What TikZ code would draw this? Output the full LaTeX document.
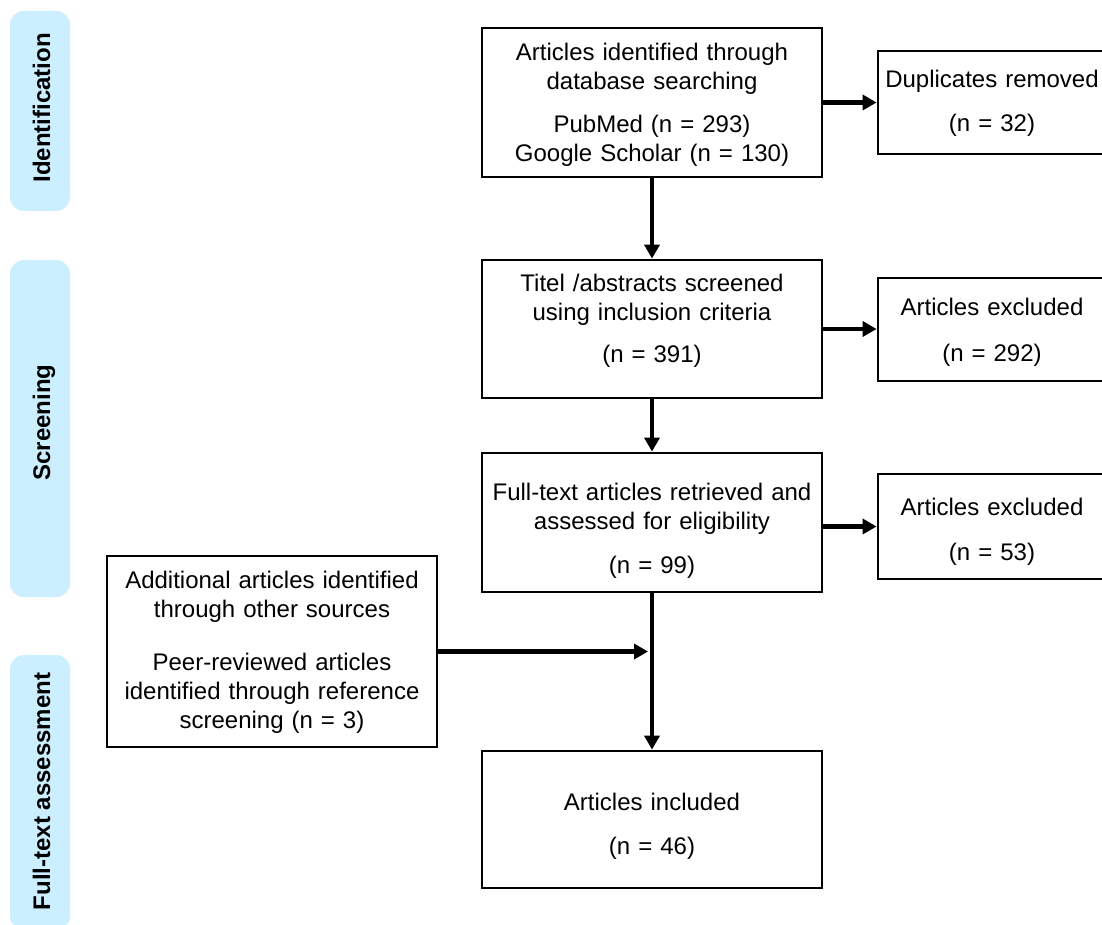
\documentclass[tikz,border=0pt]{standalone}
\usepackage{fontspec}
\setmainfont{Liberation Sans}
\usetikzlibrary{arrows.meta}
\definecolor{barblue}{RGB}{204,239,255}
\begin{document}
\begin{tikzpicture}[x=1pt,y=-1pt,
  box/.style={draw=black, line width=2.8pt, inner sep=0pt, align=center,
    font=\fontsize{24}{29}\selectfont, text height=0pt},
  arr/.style={line width=4.5pt, -{Triangle[length=14pt,width=15pt]}},
  phase/.style={fill=barblue, draw=none, rounded corners=14pt, inner sep=0pt, minimum width=60pt},
  phasetxt/.style={rotate=90, anchor=base, inner sep=0pt, font=\fontsize{24}{29}\selectfont\bfseries}]
\useasboundingbox (0,0) rectangle (1102,925);
\clip (0,0) rectangle (1102,925);

% phase bars
\node[phase, minimum height=200pt] (ph1) at (40,111) {};
\node[phase, minimum height=337pt] (ph2) at (40,428.5) {};
\node[phase, minimum height=275pt] (ph3) at (40,792.5) {};
\node[phasetxt] (ph1t) at (50,108) {Identification};
\node[phasetxt] (ph2t) at (50,422.5) {Screening};
\node[phasetxt] (ph3t) at (50,791.5) {Full-text assessment};

% boxes
\node[box, minimum width=340pt, minimum height=149pt, text width=330pt, text depth=84pt] (b1) at (652,102.5)
  {Articles identified through\\database searching\\[14pt]PubMed (n = 293)\\Google Scholar (n = 130)};
\node[box, minimum width=228pt, minimum height=103pt, text width=220pt, text depth=30pt] (dup) at (992,102.5)
  {Duplicates removed\\[15pt](n = 32)};
\node[box, minimum width=340pt, minimum height=138pt, text width=330pt, text depth=75pt] (b2) at (652,329)
  {Titel /abstracts screened\\using inclusion criteria\\[13pt](n = 391)};
\node[box, minimum width=228pt, minimum height=103pt, text width=220pt, text depth=28pt] (ex1) at (992,329.5)
  {Articles excluded\\[17pt](n = 292)};
\node[box, minimum width=340pt, minimum height=139pt, text width=330pt, text depth=44pt] (b3) at (652,522.5)
  {Full-text articles retrieved and\\assessed for eligibility\\[15pt](n = 99)};
\node[box, minimum width=228pt, minimum height=105pt, text width=220pt, text depth=22pt] (ex2) at (992,526.5)
  {Articles excluded\\[16pt](n = 53)};
\node[box, minimum width=330pt, minimum height=191pt, text width=320pt, text depth=126pt] (add) at (272,651.5)
  {Additional articles identified\\through other sources\\[24pt]Peer-reviewed articles\\identified through reference\\screening (n = 3)};
\node[box, minimum width=340pt, minimum height=137pt, text width=330pt, text depth=18pt] (incl) at (652,819.5)
  {Articles included\\[15pt](n = 46)};

% connectors
\draw[arr] (b1.east) -- (dup.west);
\draw[arr] (b1.south) -- (b2.north);
\draw[arr] (b2.east) -- (b2.east -| ex1.west);
\draw[arr] (b2.south) -- (b3.north);
\draw[arr] (b3.east |- ex2.west) -- (ex2.west);
\draw[arr] (b3.south) -- (incl.north);
\coordinate (join) at (b3.south |- add.east);
\draw[arr] (add.east) -- ([xshift=-4pt]join);
\end{tikzpicture}
\end{document}
